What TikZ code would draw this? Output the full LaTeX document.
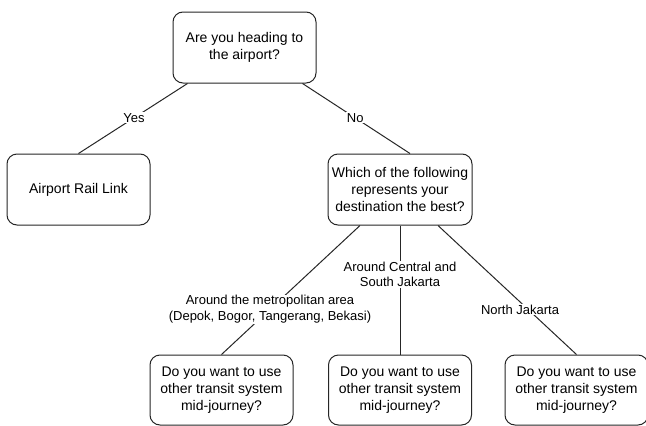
\documentclass[tikz,border=0pt]{standalone}
\usepackage{fontspec}
\setmainfont{Liberation Sans}
\begin{document}
\begin{tikzpicture}[x=1pt,y=-1pt,
  box/.style={draw=black!85, line width=1pt, rounded corners=10pt, fill=white,
    align=center, inner sep=0pt, font=\fontsize{14}{16.8}\selectfont},
  wbox/.style={box, minimum width=143pt, minimum height=71pt},
  conn/.style={draw=black!85, line width=1pt},
  elabel/.style={fill=white, inner sep=1pt, align=center, font=\fontsize{13}{15.5}\selectfont}]
\useasboundingbox (0,0) rectangle (646,426);
\node[wbox] (top) at (244.5,47.5) {Are you heading to\\the airport?};
\node[wbox] (air) at (78.5,189.5) {Airport Rail Link};
\node[wbox, minimum width=144pt] (mid) at (400,189.5) {Which of the following\\represents your\\destination the best?};
\node[wbox, minimum height=70pt] (b1) at (221.5,390) {Do you want to use\\other transit system\\mid-journey?};
\node[wbox, minimum height=70pt] (b2) at (400,390) {Do you want to use\\other transit system\\mid-journey?};
\node[wbox, minimum height=70pt] (b3) at (576.5,390) {Do you want to use\\other transit system\\mid-journey?};
\draw[conn] ([xshift=15pt]top.south west) -- node[elabel, pos=0.49] {Yes} (air.north);
\draw[conn] ([xshift=-14pt]top.south east) -- node[elabel, pos=0.49] {No} ([xshift=10pt]mid.north);
\draw[conn] ([xshift=-40pt]mid.south) -- node[elabel, pos=0.65] {Around the metropolitan area\\(Depok, Bogor, Tangerang, Bekasi)} (b1.north);
\draw[conn] (mid.south) -- node[elabel, pos=0.38] {Around Central and\\South Jakarta} (b2.north);
\draw[conn] ([xshift=38pt]mid.south) -- node[elabel, pos=0.65, xshift=-8pt] {North Jakarta} (b3.north);
\end{tikzpicture}
\end{document}
